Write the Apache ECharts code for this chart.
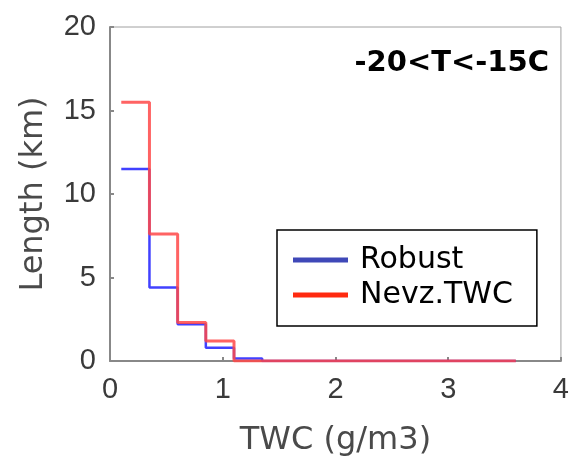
<!DOCTYPE html>
<html><head><meta charset="utf-8">
<script src="https://cdn.jsdelivr.net/npm/echarts@6/dist/echarts.min.js"></script>
<style>html,body{margin:0;padding:0;background:#fff}#c{width:572px;height:462px}</style>
</head><body><div id="c"></div>
<script>
// Bin edges (g/m3), width 0.25
const binEdges = [0.1,0.35,0.6,0.85,1.1,1.35,1.6,1.85,2.1,2.35,2.6,2.85,3.1,3.35,3.6];
const robust = [11.5,4.4,2.2,0.8,0.15,0,0,0,0,0,0,0,0,0];
const nevzTWC = [15.5,7.6,2.3,1.2,0,0,0,0,0,0,0,0,0,0];
const xTicks = [0,1,2,3,4];
const yTicks = [0,5,10,15,20];
const titleText = '-20<T<-15C';

function stepData(vals){
  return binEdges.map((e,i)=>[e, vals[Math.min(i, vals.length-1)]]);
}
const chart = echarts.init(document.getElementById('c'), null, {renderer:'canvas'});
const tickFont = {fontFamily:'Liberation Sans, Arial, sans-serif', fontSize:29, color:'#3a3a3a'};
chart.setOption({
  animation:false,
  backgroundColor:'#fff',
  grid:{left:110,right:4,top:27,bottom:97,show:true,borderColor:'#a0a0a0',borderWidth:1},
  title:{text:titleText,right:18,top:44,textStyle:{fontFamily:'DejaVu Sans',fontWeight:'bold',fontSize:29,color:'#000'}},
  legend:{
    orient:'vertical',left:277,top:230,
    padding:[15,24,16,16],itemGap:5,
    backgroundColor:'#fff',
    borderColor:'#000',borderWidth:1.5,
    icon:'rect',itemWidth:55,itemHeight:5,
    textStyle:{fontFamily:'DejaVu Sans',fontSize:30,color:'#000',padding:[0,0,0,7]},
    data:['Robust','Nevz.TWC']
  },
  xAxis:{
    type:'value',min:xTicks[0],max:xTicks[xTicks.length-1],interval:1,
    name:'TWC (g/m3)',nameLocation:'middle',nameGap:64,
    nameTextStyle:{fontFamily:'DejaVu Sans',fontSize:32,color:'#4a4a4a'},
    axisLine:{show:true,onZero:false,lineStyle:{color:'#888',width:2}},
    axisTick:{show:true,inside:true,length:4,lineStyle:{color:'#888',width:2}},
    axisLabel:Object.assign({margin:14},tickFont),
    splitLine:{show:false}
  },
  yAxis:{
    type:'value',min:yTicks[0],max:yTicks[yTicks.length-1],interval:5,
    name:'Length (km)',nameLocation:'middle',nameGap:60,
    nameTextStyle:{fontFamily:'DejaVu Sans',fontSize:32,color:'#4a4a4a'},
    axisLine:{show:true,lineStyle:{color:'#888',width:2}},
    axisTick:{show:true,inside:true,length:4,lineStyle:{color:'#888',width:2}},
    axisLabel:Object.assign({margin:14},tickFont),
    splitLine:{show:false}
  },
  series:[
    {name:'Robust',type:'line',step:'end',showSymbol:false,data:stepData(robust),
     itemStyle:{color:'#3f48b8'},lineStyle:{color:'#2020ff',width:2.5,opacity:0.85},z:2},
    {name:'Nevz.TWC',type:'line',step:'end',showSymbol:false,data:stepData(nevzTWC),
     itemStyle:{color:'#ff2a10'},lineStyle:{color:'#ff4848',width:3,opacity:0.85},z:3}
  ]
});
</script></body></html>
